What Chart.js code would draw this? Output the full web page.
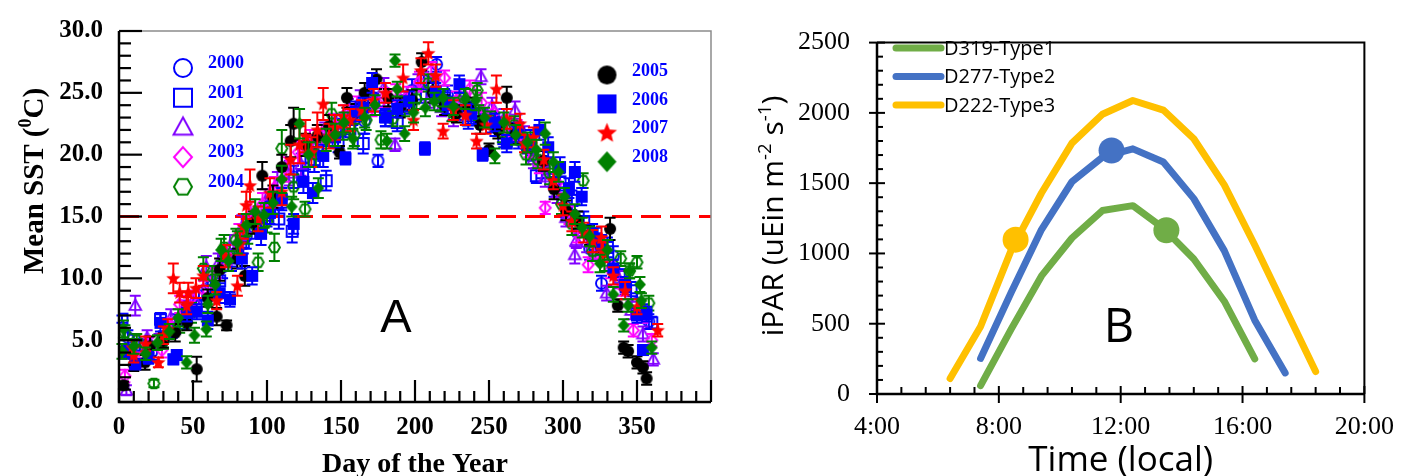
<!DOCTYPE html>
<html><head><meta charset="utf-8">
<script src="https://cdn.jsdelivr.net/npm/chart.js@4.4.1/dist/chart.umd.min.js"></script>
<style>
html,body{margin:0;padding:0;background:#fff;width:1412px;height:476px;overflow:hidden}
#wa{position:absolute;left:0;top:0;width:720px;height:476px}
#wb{position:absolute;left:720px;top:0;width:692px;height:476px}
</style></head><body>
<div id="wa"><canvas id="ca" width="720" height="476"></canvas></div>
<div id="wb"><canvas id="cb" width="692" height="476"></canvas></div>
<script>
// ---------------- Panel A data: [day, mean SST, error] ----------------
const sst2000 = [[6,5.2,0.6],[14,4.6,0.5],[22,4.0,0.6],[30,5.0,0.7],[38,6.3,0.8],[46,7.5,0.6],[54,8.6,0.7],[62,9.4,0.8],[70,10.9,0.9],[78,12.0,0.8],[86,13.4,1.0],[94,14.9,0.9],[102,15.9,1.0],[110,16.5,0.8],[118,18.2,0.9],[126,19.8,1.0],[134,20.6,0.9],[142,21.5,0.8],[150,22.2,0.7],[158,23.2,0.8],[166,22.7,1.0],[175,19.5,0.5],[182,23.8,0.7],[190,24.0,0.8],[198,25.2,0.9],[206,26.0,0.7],[214.6,27.3,0.6],[222,24.8,0.8],[230,24.3,0.7],[238,23.5,0.8],[246,22.9,0.7],[254,22.3,0.8],[262,21.6,0.9],[270,21.2,0.7],[278,20.3,0.8],[286,19.0,0.9],[294,17.4,0.8],[302,15.8,0.9],[310,14.2,0.8],[318,12.4,0.9],[326,9.6,0.6],[334,11.8,0.8],[342,9.4,0.7],[350,8.0,0.8],[358,6.5,0.6]];
const sst2001 = [[2,6.7,0.3],[10,5.0,0.5],[18,4.4,0.6],[28,6.7,0.5],[36,5.8,0.6],[44,6.6,0.7],[52,7.8,0.6],[60,9.0,0.8],[68,9.8,0.7],[76,11.4,0.8],[84,12.9,0.9],[92,14.2,1.0],[100,15.1,0.9],[108,14.8,0.8],[117,13.8,0.9],[124,18.4,0.9],[132,19.6,1.0],[140,17.9,0.8],[148,21.0,0.8],[156,22.1,0.7],[165,20.9,0.8],[172,24.2,0.7],[180,23.1,0.8],[188,22.6,0.7],[196,24.1,0.8],[204,24.9,0.7],[212,25.5,0.8],[220,24.6,0.7],[228,23.6,0.8],[236,22.8,0.7],[244,23.3,0.7],[252,22.6,0.8],[260,21.3,0.7],[268,21.8,0.8],[276,20.8,0.7],[282,18.3,0.6],[290,18.9,0.8],[298,17.8,0.7],[306,16.3,0.8],[314,14.6,0.8],[322,13.2,0.9],[330,12.5,0.8],[338,10.3,0.7],[346,9.0,0.7],[354,7.3,0.6],[360,6.4,0.5]];
const sst2002 = [[5,0.95,0.4],[11,7.8,0.8],[19,5.2,0.6],[27,4.9,0.6],[35,6.8,0.7],[43,7.4,0.8],[51,8.3,0.7],[59,10.9,0.9],[67,11.2,0.8],[75,12.6,0.9],[83,14.1,1.0],[91,14.6,0.9],[99,16.2,1.0],[107,17.7,0.9],[115,18.5,1.0],[123,19.2,0.9],[131,20.7,0.9],[139,21.8,0.8],[147,22.4,0.8],[155,23.8,0.7],[163,24.4,0.8],[171,24.9,0.7],[179,25.4,0.8],[186.5,20.8,0.5],[194,24.3,0.8],[202,25.8,0.7],[210,24.6,0.8],[218,23.8,0.7],[226,23.1,0.8],[234,24.0,0.7],[244.6,26.3,0.6],[252,23.9,0.7],[260,22.9,0.8],[267.6,23.6,0.7],[274,21.5,0.8],[280,19.6,0.7],[288,18.2,0.8],[296,16.9,0.8],[302,14.9,0.7],[308,11.9,0.7],[309,13.05,0.6],[316,12.9,0.8],[322,12.2,0.7],[329.5,8.8,0.6],[338,9.9,0.7],[346,7.4,0.7],[354,5.5,0.6],[361,3.45,0.5]];
const sst2003 = [[4,2.1,0.5],[12,3.4,0.6],[20,4.6,0.6],[29,4.2,0.6],[35,6.1,0.7],[41,7.9,0.7],[49,8.4,0.6],[57,9.1,0.7],[65,10.0,0.8],[73,11.9,0.8],[81,13.5,0.9],[89,15.2,1.0],[97,16.0,0.9],[105,17.3,0.9],[113,18.8,1.0],[121,20.2,0.9],[129,21.1,0.9],[137,21.6,0.8],[145,22.5,0.8],[153,23.3,0.7],[161,23.9,0.8],[171,23.8,0.7],[179,24.6,0.8],[187,25.0,0.7],[195,24.7,0.8],[203,25.9,0.8],[211,26.8,0.7],[220,26.2,0.6],[228,24.4,0.7],[237,25.3,0.7],[245,24.2,0.8],[253,23.4,0.8],[261,22.2,0.7],[269,22.0,0.8],[277,20.6,0.8],[284,19.2,0.7],[288,15.7,0.5],[296,17.7,0.8],[304,15.1,0.7],[310,13.6,0.7],[317,11.1,0.6],[324,12.4,0.8],[332,10.7,0.7],[340,9.3,0.7],[347.5,5.8,0.5],[354,7.0,0.6],[360,5.0,0.5]];
const sst2004 = [[4,5.6,0.6],[12,5.0,0.5],[23.6,1.5,0.3],[30,4.9,0.6],[41,6.2,0.6],[49,7.2,0.8],[57,10.8,0.9],[63,10.2,0.8],[71,12.5,1.0],[79,13.1,0.9],[87,13.8,1.0],[94,11.3,0.7],[100,14.6,0.9],[105,12.5,1.1],[110,20.5,1.5],[118,17.4,1.0],[125.7,15.6,0.6],[133,20.0,1.0],[143.7,23.3,0.9],[151,22.0,0.8],[159,21.6,0.9],[167,22.8,0.8],[177,21.2,0.7],[185,22.9,0.6],[193,23.9,0.8],[201,24.5,0.8],[209,25.8,0.7],[217,24.3,0.8],[225,23.4,0.7],[233,24.6,0.8],[242,25.2,0.6],[243,23.4,0.6],[251,22.8,0.7],[259,21.8,0.8],[267,22.4,0.7],[275,20.0,0.8],[283,19.6,0.7],[291,18.5,0.9],[299,16.0,0.8],[306,14.4,0.9],[313.6,17.9,0.6],[320,12.2,0.8],[328,11.4,0.8],[339,11.6,0.6],[345,10.6,0.6],[350,11.3,0.5],[358,8.0,0.6]];
const sst2005 = [[3,1.35,0.3],[10,3.0,0.5],[17.6,3.2,0.6],[21,4.5,0.8],[30,5.0,0.6],[38,5.6,0.7],[46,6.4,0.6],[52.5,2.65,1.0],[60,8.4,0.7],[66,6.9,0.7],[68,10.7,0.9],[72.7,6.2,0.4],[80,11.6,0.8],[85,10.2,0.8],[91,14.5,0.9],[96.8,18.3,1.1],[104,16.6,0.9],[110,19.0,1.0],[116,21.1,1.3],[118,22.5,1.3],[126,20.8,0.9],[134,21.5,0.9],[142,22.3,0.9],[149,20.2,0.5],[154,24.6,0.8],[160,23.4,0.7],[166,25.0,0.8],[174,26.1,0.8],[182,24.6,0.7],[190,23.8,0.8],[198,24.4,0.8],[204.5,27.5,0.7],[212,25.0,0.8],[220,24.0,0.8],[228,23.3,0.7],[236,23.8,0.8],[244,22.4,0.7],[250,20.4,0.5],[256,22.0,0.7],[262,24.6,0.9],[268,21.7,0.8],[276,20.9,0.7],[286.7,19.5,0.8],[294,17.2,0.8],[302,15.5,0.8],[310,14.7,0.7],[318,13.5,0.8],[325,12.8,0.7],[331.8,14.0,0.9],[337,7.8,0.5],[341,4.4,0.5],[344,4.1,0.5],[350,3.2,0.5],[354,2.8,0.5],[356.5,1.9,0.5]];
const sst2006 = [[4,4.0,0.5],[11,3.05,0.4],[20,3.6,0.5],[28,6.4,0.7],[36.7,3.45,0.4],[39,3.8,0.4],[46,7.2,0.7],[52.5,7.3,0.6],[60,6.6,0.7],[68,8.8,0.8],[75,8.3,0.6],[83,11.6,0.8],[90,10.2,0.7],[96,13.6,0.9],[102,15.3,0.9],[110,16.4,0.9],[118,14.4,0.8],[124.6,17.8,0.9],[131,16.9,0.8],[138,19.9,0.9],[146,21.4,0.8],[153,19.7,0.5],[160,23.5,0.8],[165,23.8,0.8],[171,25.8,0.8],[180,23.0,0.7],[188,23.7,0.7],[196,24.3,0.8],[206.7,20.5,0.5],[214,25.1,0.7],[222,24.0,0.7],[230,25.7,0.7],[238,23.3,0.8],[245.7,20.0,0.5],[254,22.6,0.7],[262,20.9,0.7],[270,21.8,0.8],[278,21.2,0.8],[284,22.0,0.8],[290,20.6,0.8],[298,19.0,0.8],[304,17.3,0.8],[308,18.6,0.8],[312.6,16.6,0.7],[320,13.6,0.8],[326,12.7,0.8],[334,10.8,0.7],[342,9.5,0.6],[350,7.0,0.6],[354,4.2,0.4],[356.5,7.1,0.6]];
const sst2007 = [[9,4.4,0.6],[10,3.8,0.6],[18,4.7,0.6],[26.6,3.2,0.4],[30,5.4,0.7],[33,5.9,0.8],[36.7,10.0,1.2],[41,8.85,0.8],[45.7,7.8,0.7],[46.8,8.85,0.8],[52,9.2,0.8],[57,10.2,0.8],[66,8.2,0.7],[72,11.8,0.9],[80,9.4,0.8],[81.8,12.8,0.9],[84,14.2,1.0],[86,15.9,1.1],[88.5,17.5,1.3],[94,14.8,1.0],[102,16.9,1.2],[110,17.0,1.1],[116,19.6,1.2],[122,20.8,1.5],[126,21.5,1.3],[130,20.2,1.2],[134,22.0,1.4],[138,24.1,1.3],[142,21.5,1.0],[146,22.2,1.0],[151.6,23.1,0.9],[156,22.8,0.9],[164,23.6,0.8],[172,24.4,0.9],[180,25.0,0.8],[192,26.2,1.1],[199,22.8,0.8],[204,26.8,1.0],[209,28.2,0.9],[214,26.4,0.9],[219,21.9,0.6],[226,23.6,0.8],[234,23.2,0.8],[241.6,21.1,0.6],[248,22.4,0.7],[255,25.3,1.1],[262,22.9,0.8],[271,22.5,0.8],[274,20.9,0.7],[280,21.4,0.8],[287,19.6,0.8],[293.5,17.9,0.7],[300,15.9,0.8],[306,14.6,0.8],[314,13.7,0.8],[320,13.0,0.9],[326,13.3,0.9],[327,12.1,0.8],[334,10.2,0.7],[342,9.0,0.7],[350,7.7,0.6],[364,5.8,0.5]];
const sst2008 = [[2,4.1,0.6],[3,5.9,0.7],[10,4.5,0.6],[18,3.9,0.5],[26,4.8,0.6],[34,5.7,0.6],[40,6.8,0.7],[45.7,3.2,0.5],[51,5.4,0.6],[59,5.9,0.6],[60,7.9,0.7],[65,9.5,0.8],[69,12.3,0.9],[74,11.4,0.8],[80,12.9,0.9],[86,14.3,0.9],[92,15.4,1.0],[98,15.1,1.0],[104,16.1,0.9],[110,18.0,1.1],[116.7,15.8,0.8],[122,22.5,1.2],[128,20.0,1.0],[134.7,17.3,0.8],[140,21.2,0.9],[146,21.6,0.9],[152,22.6,0.8],[158,21.3,0.8],[166,23.0,0.8],[173,24.0,0.8],[181,21.1,0.6],[186.5,27.6,0.5],[188,25.3,0.6],[193,21.7,0.6],[199,23.4,0.8],[207,23.8,0.7],[213,24.3,0.7],[219,24.6,0.7],[226,23.9,0.7],[234,24.5,0.8],[241,24.4,0.8],[247,23.0,0.8],[254,19.9,0.6],[260,22.6,0.8],[268,21.6,0.8],[276,21.0,0.8],[282,20.4,0.8],[288,21.7,0.9],[293.5,19.4,0.8],[297,18.6,0.8],[301,16.6,0.7],[308,15.2,0.8],[313,14.1,0.8],[318,13.4,0.8],[325,11.2,0.7],[330,12.3,0.8],[334,8.7,0.6],[341,6.2,0.5],[344,7.8,0.5],[345,10.6,0.6],[352,9.5,0.6],[353,8.2,0.6],[360,4.4,0.5]];
const yearLabels = ['2000','2001','2002','2003','2004','2005','2006','2007','2008'];
const thresholdSST = 15.0;
const dayTicks = [0,50,100,150,200,250,300,350];
const sstTicks = [0,5,10,15,20,25,30];

// ---------------- Panel B data ----------------
const hoursType1 = [7.4, 8.4, 9.4, 10.4, 11.4, 12.4, 13.4, 14.4, 15.4, 16.4];
const parType1   = [60, 460, 840, 1110, 1305, 1340, 1180, 960, 660, 250];
const hoursType2 = [7.4, 8.4, 9.4, 10.4, 11.4, 12.4, 13.4, 14.4, 15.4, 16.4, 17.4];
const parType2   = [253, 720, 1170, 1510, 1685, 1744, 1650, 1390, 1020, 525, 150];
const hoursType3 = [6.4, 7.4, 8.4, 9.4, 10.4, 11.4, 12.4, 13.4, 14.4, 15.4, 16.4, 17.4, 18.4];
const parType3   = [110, 480, 1020, 1430, 1785, 1990, 2088, 2020, 1816, 1488, 1060, 610, 160];
const dotHours = [13.5, 11.7, 8.55];
const dotPar   = [1165, 1732, 1098];
const typeLabels = ['D319-Type1','D277-Type2','D222-Type3'];
const timeTicks = [4, 8, 12, 16, 20];
const parTicks = [0, 500, 1000, 1500, 2000, 2500];

// ---------------- markers ----------------
function makeMarker(shape, size, color, filled, lw) {
  const pad = Math.ceil(lw) + 2;
  const n = Math.ceil(size + pad * 2);
  const c = document.createElement('canvas'); c.width = n; c.height = n;
  const g = c.getContext('2d');
  const cx = n / 2, cy = n / 2, r = size / 2;
  g.beginPath();
  if (shape === 'circle') g.arc(cx, cy, r, 0, Math.PI * 2);
  else if (shape === 'square') g.rect(cx - r, cy - r, 2 * r, 2 * r);
  else if (shape === 'triangle') { g.moveTo(cx, cy - r * 1.1); g.lineTo(cx + r * 1.05, cy + r * 0.8); g.lineTo(cx - r * 1.05, cy + r * 0.8); g.closePath(); }
  else if (shape === 'diamond') { g.moveTo(cx, cy - r * 1.1); g.lineTo(cx + r, cy); g.lineTo(cx, cy + r * 1.1); g.lineTo(cx - r, cy); g.closePath(); }
  else if (shape === 'hexagon') { for (let k = 0; k < 6; k++) { const a = k * Math.PI / 3; const px = cx + r * Math.cos(a), py = cy + r * Math.sin(a); if (k) g.lineTo(px, py); else g.moveTo(px, py); } g.closePath(); }
  else if (shape === 'star') { for (let k = 0; k < 10; k++) { const a = -Math.PI / 2 + k * Math.PI / 5; const rr = k % 2 ? r * 0.45 : r; const px = cx + rr * Math.cos(a), py = cy + 0.05 * r + rr * Math.sin(a); if (k) g.lineTo(px, py); else g.moveTo(px, py); } g.closePath(); }
  if (filled) { g.fillStyle = color; g.fill(); } else { g.strokeStyle = color; g.lineWidth = lw; g.stroke(); }
  return c;
}
const styleA = [
  {shape:'circle', color:'#0000FF', filled:false},
  {shape:'square', color:'#0000FF', filled:false},
  {shape:'triangle', color:'#8000FF', filled:false},
  {shape:'diamond', color:'#FF00FF', filled:false},
  {shape:'hexagon', color:'#008000', filled:false},
  {shape:'circle', color:'#000000', filled:true},
  {shape:'square', color:'#0000FF', filled:true},
  {shape:'star', color:'#FF0000', filled:true},
  {shape:'diamond', color:'#008000', filled:true}
];
const seriesA = [sst2000, sst2001, sst2002, sst2003, sst2004, sst2005, sst2006, sst2007, sst2008];
function dataSize(s){ return s.shape==='star' ? 15 : (s.filled ? 12 : 11); }
function legendSize(s){ return s.shape==='star' ? 21 : (s.filled ? 19 : 18); }

const errorBarPlugin = {
  id: 'errbars',
  beforeDatasetDraw(chart, args) {
    const ds = chart.data.datasets[args.index];
    if (!ds.errBars) return;
    const ys = chart.scales.y, ctx = chart.ctx;
    ctx.save(); ctx.strokeStyle = ds.errColor; ctx.lineWidth = 2;
    args.meta.data.forEach((pt, i) => {
      const raw = ds.data[i];
      const y1 = ys.getPixelForValue(raw.y + raw.e), y2 = ys.getPixelForValue(raw.y - raw.e);
      ctx.beginPath();
      ctx.moveTo(pt.x, y1); ctx.lineTo(pt.x, y2);
      ctx.moveTo(pt.x - 5.5, y1); ctx.lineTo(pt.x + 5.5, y1);
      ctx.moveTo(pt.x - 5.5, y2); ctx.lineTo(pt.x + 5.5, y2);
      ctx.stroke();
    });
    ctx.restore();
  }
};

function drawRich(ctx, parts, x, y, family, weight, size, align) {
  let total = 0;
  const widths = parts.map(p => { ctx.font = weight + ' ' + (p.sup ? size * 0.62 : size) + 'px ' + family; const w = ctx.measureText(p.t).width; total += w; return w; });
  let cx = align === 'center' ? x - total / 2 : x;
  parts.forEach((p, i) => {
    ctx.font = weight + ' ' + (p.sup ? size * 0.62 : size) + 'px ' + family;
    ctx.fillText(p.t, cx, p.sup ? y - size * 0.4 : y);
    cx += widths[i];
  });
}

const decorA = {
  id: 'decorA',
  afterDraw(chart) {
    const ctx = chart.ctx, a = chart.chartArea, xs = chart.scales.x, ys = chart.scales.y;
    ctx.save();
    ctx.strokeStyle = '#8c8c8c'; ctx.lineWidth = 1.5;
    ctx.beginPath(); ctx.moveTo(a.left, a.top); ctx.lineTo(a.right, a.top); ctx.lineTo(a.right, a.bottom); ctx.stroke();
    ctx.strokeStyle = '#000'; ctx.lineWidth = 2.5; ctx.lineCap = 'butt';
    ctx.beginPath(); ctx.moveTo(a.left, a.top); ctx.lineTo(a.left, a.bottom); ctx.lineTo(a.right, a.bottom); ctx.stroke();
    ctx.lineWidth = 2.2;
    for (let v = 0; v <= 30; v++) {
      const y = ys.getPixelForValue(v), len = v % 5 === 0 ? 23 : 12;
      ctx.beginPath(); ctx.moveTo(a.left, y); ctx.lineTo(a.left + len, y); ctx.stroke();
    }
    for (let d = 0; d <= 400; d += 10) {
      const x = xs.getPixelForValue(d), len = d % 50 === 0 ? 22 : 11;
      ctx.beginPath(); ctx.moveTo(x, a.bottom); ctx.lineTo(x, a.bottom - len); ctx.stroke();
    }
    ctx.textAlign = 'left'; ctx.textBaseline = 'middle'; ctx.fillStyle = '#0000FF';
    ctx.font = 'bold 18px "Liberation Serif"';
    for (let i = 0; i < 9; i++) {
      const s = styleA[i];
      const img = makeMarker(s.shape, legendSize(s), s.color, s.filled, 2);
      let mx, my, tx, ty;
      if (i < 5) { mx = a.left + 64; my = a.top + 37 + i * 29.7; tx = a.left + 89; ty = my - 4.5; }
      else { const j = i - 5; mx = a.left + 488; my = a.top + 44 + j * 28.9; tx = a.left + 513; ty = my - 4; }
      ctx.drawImage(img, mx - img.width / 2, my - img.height / 2);
      ctx.fillText(yearLabels[i], tx, ty);
    }
    ctx.fillStyle = '#000';
    ctx.textAlign = 'center'; ctx.textBaseline = 'alphabetic';
    ctx.font = 'bold 28px "Liberation Serif"';
    ctx.fillText('Day of the Year', (a.left + a.right) / 2, 472);
    ctx.save();
    ctx.translate(43, 181); ctx.rotate(-Math.PI / 2);
    ctx.textAlign = 'left';
    drawRich(ctx, [{t:'Mean SST ('}, {t:'0', sup:true}, {t:'C)'}], 0, 0, '"Liberation Serif"', 'bold', 29, 'center');
    ctx.restore();
    ctx.textAlign = 'center';
    ctx.font = '47px "Liberation Sans"';
    ctx.fillText('A', 396, 332);
    ctx.restore();
  }
};

const dsA = seriesA.map((arr, i) => ({
  label: yearLabels[i],
  data: arr.map(p => ({x: p[0], y: p[1], e: p[2]})),
  pointStyle: makeMarker(styleA[i].shape, dataSize(styleA[i]), styleA[i].color, styleA[i].filled, 1.9),
  pointRadius: 5,
  showLine: false,
  errBars: true,
  errColor: styleA[i].color,
  order: 10 - i
}));
dsA.push({
  label: 'threshold',
  data: [{x: 0, y: thresholdSST}, {x: 400, y: thresholdSST}],
  showLine: true, borderColor: '#FF0000', borderWidth: 3, borderDash: [20, 9],
  pointRadius: 0, order: 100
});

new Chart(document.getElementById('ca'), {
  type: 'scatter',
  data: { datasets: dsA },
  options: {
    responsive: false, animation: false, events: [],
    layout: { padding: { top: 22, right: 9, left: 0, bottom: 0 } },
    plugins: { legend: { display: false }, tooltip: { enabled: false } },
    scales: {
      x: {
        type: 'linear', min: 0, max: 400,
        afterFit(s) { s.height = 74; },
        afterBuildTicks(s) { s.ticks = dayTicks.map(v => ({value: v})); },
        grid: { display: false, drawTicks: false }, border: { display: false },
        ticks: { padding: 11, color: '#000', maxRotation: 0, autoSkip: false,
          font: { family: '"Liberation Serif"', weight: 'bold', size: 25 },
          callback: v => String(v) }
      },
      y: {
        min: 0, max: 30,
        afterFit(s) { s.width = 119; },
        afterBuildTicks(s) { s.ticks = sstTicks.map(v => ({value: v})); },
        grid: { display: false, drawTicks: false }, border: { display: false },
        ticks: { padding: 16, color: '#000', autoSkip: false,
          font: { family: '"Liberation Serif"', weight: 'bold', size: 25 },
          callback: v => Number(v).toFixed(1) }
      }
    }
  },
  plugins: [errorBarPlugin, decorA]
});

// ---------------- Panel B ----------------
const colorsB = ['#70AD47', '#4472C4', '#FFC000'];
const decorB = {
  id: 'decorB',
  afterDraw(chart) {
    const ctx = chart.ctx, a = chart.chartArea, xs = chart.scales.x, ys = chart.scales.y;
    ctx.save();
    ctx.strokeStyle = '#000'; ctx.lineWidth = 2;
    ctx.beginPath(); ctx.moveTo(a.left, a.top); ctx.lineTo(a.right, a.top); ctx.lineTo(a.right, a.bottom); ctx.stroke();
    ctx.lineWidth = 2.5;
    ctx.beginPath(); ctx.moveTo(a.left, a.top); ctx.lineTo(a.left, a.bottom); ctx.lineTo(a.right, a.bottom); ctx.stroke();
    ctx.lineWidth = 2;
    for (let v = 0; v <= 2500; v += 100) {
      const y = ys.getPixelForValue(v);
      ctx.beginPath();
      if (v % 500 === 0) { ctx.moveTo(a.left - 8, y); ctx.lineTo(a.left + 8, y); }
      else { ctx.moveTo(a.left, y); ctx.lineTo(a.left + 6, y); }
      ctx.stroke();
    }
    for (let i = 0; i <= 20; i++) {
      const x = xs.getPixelForValue(4 + 0.8 * i);
      ctx.beginPath();
      if (i % 5 === 0) { ctx.moveTo(x, a.bottom - 8); ctx.lineTo(x, a.bottom + 9); }
      else { ctx.moveTo(x, a.bottom); ctx.lineTo(x, a.bottom - 7); }
      ctx.stroke();
    }
    ctx.lineCap = 'round'; ctx.lineWidth = 7;
    ctx.font = '20px "Open Sans"'; ctx.textBaseline = 'middle'; ctx.textAlign = 'left'; ctx.fillStyle = '#000';
    const rows = [48, 76.5, 105];
    for (let i = 0; i < 3; i++) {
      ctx.strokeStyle = colorsB[i];
      ctx.beginPath(); ctx.moveTo(a.left + 19, rows[i]); ctx.lineTo(a.left + 64, rows[i]); ctx.stroke();
      ctx.fillText(typeLabels[i], a.left + 67, rows[i] + 1);
    }
    ctx.textBaseline = 'alphabetic'; ctx.textAlign = 'center';
    ctx.font = '35px "Open Sans"';
    ctx.fillText('Time (local)', (a.left + a.right) / 2, 471);
    ctx.save();
    ctx.translate(63, 216); ctx.rotate(-Math.PI / 2);
    ctx.textAlign = 'left';
    drawRich(ctx, [{t:'iPAR (uEin m'}, {t:'-2', sup:true}, {t:' s'}, {t:'-1', sup:true}, {t:')'}], 0, 0, '"Open Sans"', 'normal', 30, 'center');
    ctx.restore();
    ctx.font = '47px "Open Sans"';
    ctx.fillText('B', 399, 342);
    ctx.restore();
  }
};

function lineDs(hours, par, color, label) {
  return { label: label, data: hours.map((h, i) => ({x: h, y: par[i]})), showLine: true,
    borderColor: color, borderWidth: 7, borderCapStyle: 'round', borderJoinStyle: 'round',
    pointRadius: 0, fill: false, order: 5 };
}
const dsB = [
  lineDs(hoursType1, parType1, colorsB[0], typeLabels[0]),
  lineDs(hoursType2, parType2, colorsB[1], typeLabels[1]),
  lineDs(hoursType3, parType3, colorsB[2], typeLabels[2])
];
dotHours.forEach((h, i) => dsB.push({ label: 'dot' + i, data: [{x: h, y: dotPar[i]}], showLine: false,
  pointRadius: 13, pointBackgroundColor: colorsB[i], pointBorderWidth: 0, order: 1 }));

new Chart(document.getElementById('cb'), {
  type: 'scatter',
  data: { datasets: dsB },
  options: {
    responsive: false, animation: false, events: [],
    layout: { padding: { top: 26, right: 34, left: 0, bottom: 0 } },
    plugins: { legend: { display: false }, tooltip: { enabled: false } },
    scales: {
      x: {
        type: 'linear', min: 4, max: 20,
        afterFit(s) { s.height = 82; },
        afterBuildTicks(s) { s.ticks = timeTicks.map(v => ({value: v})); },
        grid: { display: false, drawTicks: false }, border: { display: false },
        ticks: { padding: 18, color: '#000', maxRotation: 0, autoSkip: false,
          font: { family: '"Liberation Serif"', size: 26 },
          callback: v => v + ':00' }
      },
      y: {
        min: 0, max: 2500,
        afterFit(s) { s.width = 157; },
        afterBuildTicks(s) { s.ticks = parTicks.map(v => ({value: v})); },
        grid: { display: false, drawTicks: false }, border: { display: false },
        ticks: { padding: 27, color: '#000', autoSkip: false,
          font: { family: '"Liberation Serif"', size: 26 },
          callback: v => String(v) }
      }
    }
  },
  plugins: [decorB]
});
</script>
</body></html>
